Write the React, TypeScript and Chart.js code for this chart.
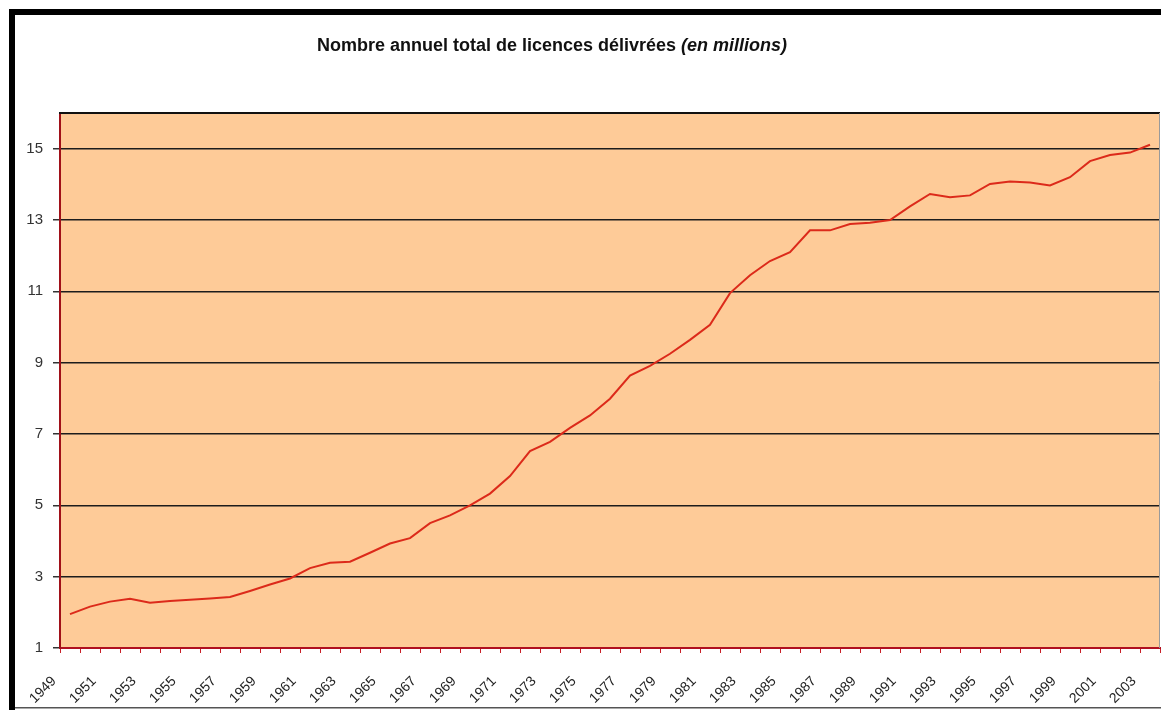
import React, { useEffect, useRef } from "react";
import { Chart, registerables } from "chart.js";

Chart.register(...registerables);

const years = [
  "1949", "1950", "1951", "1952", "1953", "1954", "1955", "1956", "1957", "1958",
  "1959", "1960", "1961", "1962", "1963", "1964", "1965", "1966", "1967", "1968",
  "1969", "1970", "1971", "1972", "1973", "1974", "1975", "1976", "1977", "1978",
  "1979", "1980", "1981", "1982", "1983", "1984", "1985", "1986", "1987", "1988",
  "1989", "1990", "1991", "1992", "1993", "1994", "1995", "1996", "1997", "1998",
  "1999", "2000", "2001", "2002", "2003",
];

const licences = [
  1.95, 2.16, 2.30, 2.38, 2.27, 2.32, 2.35, 2.39, 2.43, 2.60,
  2.78, 2.95, 3.24, 3.39, 3.42, 3.67, 3.93, 4.08, 4.50, 4.72,
  5.00, 5.33, 5.82, 6.52, 6.78, 7.17, 7.52, 7.99, 8.64, 8.91,
  9.25, 9.64, 10.06, 10.95, 11.45, 11.85, 12.10, 12.71, 12.71, 12.89,
  12.92, 13.00, 13.38, 13.73, 13.64, 13.69, 14.01, 14.08, 14.05, 13.97,
  14.20, 14.65, 14.82, 14.89, 15.11,
];

const shownYearLabels = [
  "1949", "1951", "1953", "1955", "1957", "1959", "1961", "1963", "1965", "1967",
  "1969", "1971", "1973", "1975", "1977", "1979", "1981", "1983", "1985", "1987",
  "1989", "1991", "1993", "1995", "1997", "1999", "2001", "2003",
];

const yTicks = [1, 3, 5, 7, 9, 11, 13, 15];

const titleMain = "Nombre annuel total de licences délivrées ";
const titleItalic = "(en millions)";

const FONT = '"Liberation Sans", Arial, sans-serif';

const decorPlugin = {
  id: "decor",
  beforeDraw(chart: any) {
    const { ctx, chartArea, width, height } = chart;
    ctx.save();
    ctx.fillStyle = "#ffffff";
    ctx.fillRect(0, 0, width, height);
    // outer frame
    ctx.fillStyle = "#000000";
    ctx.fillRect(9, 9, width - 9, 6);
    ctx.fillRect(9, 9, 6, height - 9);
    ctx.fillStyle = "#555555";
    ctx.fillRect(15, 707, width - 15, 1.5);
    // plot background
    ctx.fillStyle = "#FECB98";
    ctx.fillRect(
      chartArea.left,
      chartArea.top,
      chartArea.right - chartArea.left,
      chartArea.bottom - chartArea.top
    );
    ctx.restore();
  },
  afterDraw(chart: any) {
    const { ctx, chartArea } = chart;
    ctx.save();
    // top border of plot
    ctx.strokeStyle = "#111111";
    ctx.lineWidth = 2;
    ctx.beginPath();
    ctx.moveTo(chartArea.left - 1, chartArea.top);
    ctx.lineTo(chartArea.right, chartArea.top);
    ctx.stroke();
    // right border
    ctx.strokeStyle = "#9a9a9a";
    ctx.lineWidth = 1;
    ctx.beginPath();
    ctx.moveTo(chartArea.right - 0.5, chartArea.top);
    ctx.lineTo(chartArea.right - 0.5, chartArea.bottom);
    ctx.stroke();
    // title
    ctx.fillStyle = "#111111";
    ctx.textBaseline = "middle";
    ctx.textAlign = "left";
    const f1 = `bold 18px ${FONT}`;
    const f2 = `italic bold 18px ${FONT}`;
    ctx.font = f1;
    const w1 = ctx.measureText(titleMain).width;
    ctx.font = f2;
    const w2 = ctx.measureText(titleItalic).width;
    const x0 = 552 - (w1 + w2) / 2;
    ctx.font = f1;
    ctx.fillText(titleMain, x0, 46);
    ctx.font = f2;
    ctx.fillText(titleItalic, x0 + w1, 46);
    ctx.restore();
  },
};

export default function App() {
  const canvasRef = useRef<HTMLCanvasElement | null>(null);

  useEffect(() => {
    const canvas = canvasRef.current;
    if (!canvas) return;
    const chart = new Chart(canvas, {
      type: "line",
      data: {
        labels: years,
        datasets: [
          {
            data: licences,
            borderColor: "#DC2A1A",
            borderWidth: 2,
            pointRadius: 0,
            tension: 0,
            fill: false,
          },
        ],
      },
      options: {
        responsive: false,
        animation: false,
        devicePixelRatio: 1,
        layout: { padding: { left: 0, top: 113, right: 1, bottom: 0 } },
        plugins: {
          legend: { display: false },
          title: { display: false },
          tooltip: { enabled: false },
        },
        scales: {
          x: {
            type: "category",
            offset: true,
            grid: {
              offset: true,
              drawOnChartArea: false,
              drawTicks: true,
              tickLength: 5,
              tickColor: "#c8202a",
              lineWidth: 1,
            },
            border: { color: "#b01020", width: 2 },
            ticks: {
              autoSkip: false,
              minRotation: 45,
              maxRotation: 45,
              labelOffset: -16,
              padding: 20,
              color: "#222222",
              font: { family: FONT, size: 14 },
              callback: (_v: any, i: number) =>
                shownYearLabels.includes(years[i]) ? years[i] : "",
            },
            afterFit: (s: any) => {
              s.height = 62;
              s.paddingLeft = 0;
              s.paddingRight = 0;
            },
          },
          y: {
            min: 1,
            max: 16,
            afterBuildTicks: (s: any) => {
              s.ticks = yTicks.map((v) => ({ value: v }));
            },
            grid: {
              color: (c: any) =>
                c.tick && c.tick.value === 1 ? "rgba(0,0,0,0)" : "#1c1c1c",
              lineWidth: 1.5,
              drawTicks: true,
              tickLength: 7,
              tickColor: "#333333",
            },
            border: { color: "#a01018", width: 2 },
            ticks: {
              padding: 10,
              color: "#333333",
              font: { family: FONT, size: 15 },
            },
            afterFit: (s: any) => {
              s.width = 60;
            },
          },
        },
      },
      plugins: [decorPlugin],
    } as any);
    return () => chart.destroy();
  }, []);

  return (
    <div style={{ position: "fixed", left: 0, top: 0, width: 1161, height: 710 }}>
      <canvas ref={canvasRef} width={1161} height={710} style={{ display: "block" }} />
    </div>
  );
}
